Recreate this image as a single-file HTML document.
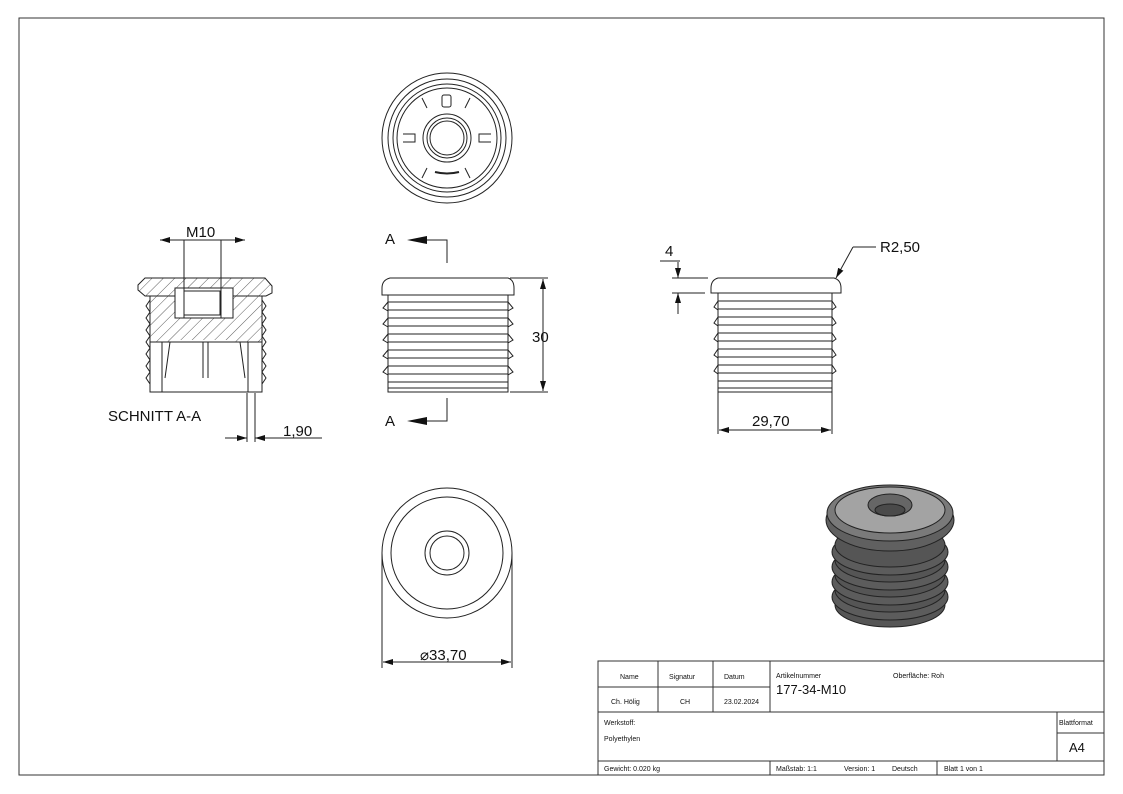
<!DOCTYPE html>
<html><head><meta charset="utf-8"><style>body{margin:0;background:#fff}svg{display:block}text{font-family:"Liberation Sans",sans-serif;fill:#111}</style></head><body>
<svg width="1123" height="794" viewBox="0 0 1123 794" xmlns="http://www.w3.org/2000/svg">
<defs>
<marker id="ar" viewBox="0 0 10 6" refX="10" refY="3" markerWidth="10" markerHeight="6" orient="auto-start-reverse" markerUnits="userSpaceOnUse"><path d="M0,0 L10,3 L0,6z" fill="#111"/></marker>
<pattern id="h" width="8" height="8" patternUnits="userSpaceOnUse" patternTransform="rotate(45)"><line x1="0" y1="0" x2="0" y2="8" stroke="#333" stroke-width="0.8"/></pattern>
<radialGradient id="g" cx="50%" cy="40%" r="60%"><stop offset="0" stop-color="#9a9a9a"/><stop offset="1" stop-color="#555"/></radialGradient>
</defs>
<rect x="19" y="18" width="1085" height="757" fill="none" stroke="#333" stroke-width="1"/>
<g fill="none" stroke="#222" stroke-width="1">
<!-- top view -->
<circle cx="447" cy="138" r="65"/><circle cx="447" cy="138" r="59"/><circle cx="447" cy="138" r="54"/><circle cx="447" cy="138" r="50"/>
<circle cx="447" cy="138" r="24"/><circle cx="447" cy="138" r="20"/><circle cx="447" cy="138" r="17"/>
<path d="M403,134h12v8h-12M491,134h-12v8h12M422,98l5,10M470,98l-5,10M422,178l5,-10M470,178l-5,-10"/>
<rect x="442" y="95" width="9" height="12" rx="2"/>
<path d="M435,172 Q447,175 459,172" stroke-width="2"/>
<!-- section view -->
<path d="M145,278 H265 L272,286 V293 L266,296 H145 L138,290 V285z" fill="url(#h)"/>
<path d="M150,296 H262 V392 H150z"/>
<rect x="150" y="296" width="28" height="46" fill="url(#h)" stroke="none"/><rect x="234" y="296" width="28" height="46" fill="url(#h)" stroke="none"/>
<rect x="178" y="296" width="56" height="44" fill="url(#h)" stroke="none"/>
<rect x="175" y="288" width="58" height="30" fill="#fff"/><rect x="184" y="291" width="36" height="24"/>
<line x1="150" y1="342" x2="262" y2="342"/>
<path d="M162,342 v50 M248,342 v50 M170,342l-5,36 M240,342l5,36 M203,342v36 M208,342v36"/>
<path d="M150,300 l-4,6 4,6 -4,6 4,6 -4,6 4,6 -4,6 4,6 -4,6 4,6 -4,6 4,6 -4,6 4,6 M262,300 l4,6 -4,6 4,6 -4,6 4,6 -4,6 4,6 -4,6 4,6 -4,6 4,6 -4,6 4,6 -4,6"/>
<line x1="184" y1="240" x2="184" y2="318"/><line x1="221" y1="240" x2="221" y2="318"/>
<line x1="160" y1="240" x2="245" y2="240" marker-start="url(#ar)" marker-end="url(#ar)"/>
<line x1="247" y1="393" x2="247" y2="442"/><line x1="255" y1="393" x2="255" y2="442"/>
<line x1="225" y1="438" x2="247" y2="438" marker-end="url(#ar)"/><line x1="322" y1="438" x2="255" y2="438" marker-end="url(#ar)"/>
<!-- front view -->
<path d="M390,278 H508 Q514,280 514,288 V295 H382 V288 Q382,280 390,278z"/>
<path d="M388,295 H508 M388,295 V392 H508 V295"/>
<path d="M388,302H508M388,310H508M388,318H508M388,326H508M388,334H508M388,342H508M388,350H508M388,358H508M388,366H508M388,374H508M388,382H508M388,388H508"/>
<path d="M388,302l-5,6 5,3 M508,302l5,6 -5,3 M388,318l-5,6 5,3 M508,318l5,6 -5,3 M388,334l-5,6 5,3 M508,334l5,6 -5,3 M388,350l-5,6 5,3 M508,350l5,6 -5,3 M388,366l-5,6 5,3 M508,366l5,6 -5,3"/>
<line x1="510" y1="278" x2="548" y2="278"/><line x1="510" y1="392" x2="548" y2="392"/>
<line x1="543" y1="279" x2="543" y2="391" marker-start="url(#ar)" marker-end="url(#ar)"/>
<path d="M447,263 V240 H427 M447,398 V421 H427"/>
<!-- right view -->
<path d="M718,278 H834 Q841,280 841,288 V293 H711 V288 Q711,280 718,278z"/>
<path d="M718,293 V392 H832 V293"/>
<path d="M718,301H832M718,309H832M718,317H832M718,325H832M718,333H832M718,341H832M718,349H832M718,357H832M718,365H832M718,373H832M718,381H832M718,388H832"/>
<path d="M718,301l-4,6 4,3 M832,301l4,6 -4,3 M718,317l-4,6 4,3 M832,317l4,6 -4,3 M718,333l-4,6 4,3 M832,333l4,6 -4,3 M718,349l-4,6 4,3 M832,349l4,6 -4,3 M718,365l-4,6 4,3 M832,365l4,6 -4,3"/>
<line x1="672" y1="278" x2="708" y2="278"/><line x1="672" y1="293" x2="705" y2="293"/>
<line x1="678" y1="262" x2="678" y2="278" marker-end="url(#ar)"/><line x1="678" y1="314" x2="678" y2="293" marker-end="url(#ar)"/>
<line x1="660" y1="261" x2="680" y2="261"/>
<line x1="718" y1="392" x2="718" y2="434"/><line x1="832" y1="392" x2="832" y2="434"/>
<line x1="719" y1="430" x2="831" y2="430" marker-start="url(#ar)" marker-end="url(#ar)"/>
<path d="M876,247 H853" /><line x1="853" y1="247" x2="836" y2="278" marker-end="url(#ar)"/>
<!-- bottom view -->
<circle cx="447" cy="553" r="65"/><circle cx="447" cy="553" r="56"/><circle cx="447" cy="553" r="22"/><circle cx="447" cy="553" r="17"/>
<line x1="382" y1="553" x2="382" y2="668"/><line x1="512" y1="553" x2="512" y2="668"/>
<line x1="383" y1="662" x2="511" y2="662" marker-start="url(#ar)" marker-end="url(#ar)"/>
</g>
<g fill="#111"><path d="M427,236 L407,240 L427,244z M427,417 L407,421 L427,425z"/></g>
<!-- iso -->
<g stroke="#222" stroke-width="1">
<ellipse cx="890" cy="605" rx="55" ry="22" fill="#555"/>
<ellipse cx="890" cy="597" rx="58" ry="23" fill="#5c5c5c"/>
<ellipse cx="890" cy="590" rx="55" ry="22" fill="#555"/>
<ellipse cx="890" cy="582" rx="58" ry="23" fill="#5c5c5c"/>
<ellipse cx="890" cy="575" rx="55" ry="22" fill="#555"/>
<ellipse cx="890" cy="567" rx="58" ry="23" fill="#5c5c5c"/>
<ellipse cx="890" cy="560" rx="55" ry="22" fill="#555"/>
<ellipse cx="890" cy="552" rx="58" ry="23" fill="#5c5c5c"/>
<ellipse cx="890" cy="545" rx="55" ry="22" fill="#555"/>
<ellipse cx="890" cy="520" rx="64" ry="31" fill="#606060"/>
<ellipse cx="890" cy="513" rx="63" ry="28" fill="#7a7a7a"/>
<ellipse cx="890" cy="510" rx="55" ry="23" fill="#a3a3a3"/>
<ellipse cx="890" cy="505" rx="22" ry="11" fill="#666"/><ellipse cx="890" cy="510" rx="15" ry="6" fill="#4a4a4a"/>
</g>
<g font-size="15">
<text x="186" y="237">M10</text><text x="108" y="421">SCHNITT A-A</text><text x="283" y="436">1,90</text>
<text x="385" y="244">A</text><text x="385" y="426">A</text><text x="532" y="342">30</text>
<text x="665" y="256">4</text><text x="880" y="252">R2,50</text><text x="752" y="426">29,70</text>
<text x="420" y="660">⌀33,70</text>
</g>
<!-- title block -->
<g fill="none" stroke="#333" stroke-width="1">
<path d="M598,775 V661 H1104 M598,687 H770 M598,712 H1104 M598,761 H1104 M658,661 V712 M713,661 V712 M770,661 V712 M1057,712 V761 M1057,733 H1104 M770,761 V775 M937,761 V775"/>
</g>
<g font-size="7">
<text x="620" y="679">Name</text><text x="669" y="679">Signatur</text><text x="724" y="679">Datum</text>
<text x="611" y="704">Ch. Hölig</text><text x="680" y="704">CH</text><text x="724" y="704">23.02.2024</text>
<text x="776" y="678">Artikelnummer</text><text x="893" y="678">Oberfläche:  Roh</text>
<text x="604" y="725">Werkstoff:</text><text x="604" y="741">Polyethylen</text>
<text x="1059" y="725">Blattformat</text>
<text x="604" y="771">Gewicht: 0.020 kg</text><text x="776" y="771">Maßstab: 1:1</text><text x="844" y="771">Version: 1</text><text x="892" y="771">Deutsch</text><text x="944" y="771">Blatt 1 von 1</text>
</g>
<text x="776" y="694" font-size="13">177-34-M10</text>
<text x="1069" y="752" font-size="13">A4</text>
</svg>
</body></html>
